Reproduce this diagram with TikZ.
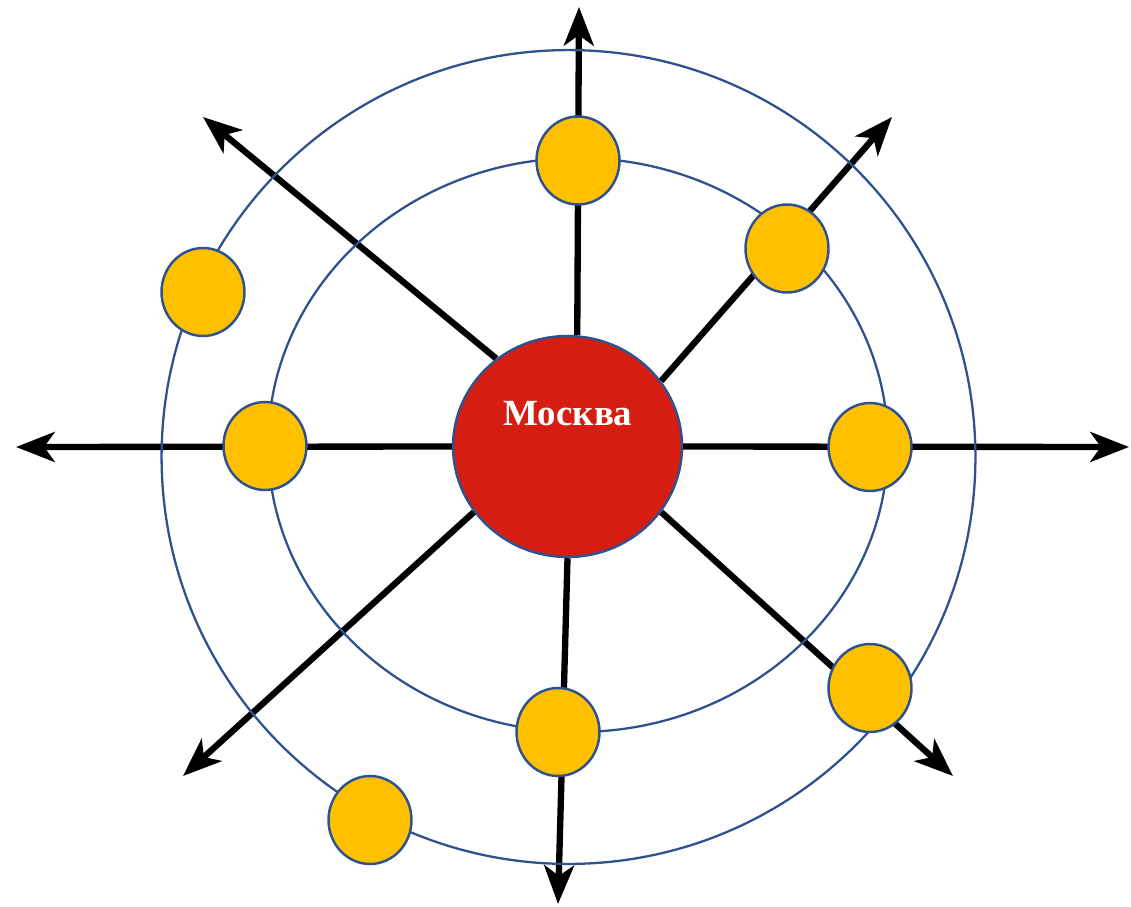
\documentclass[tikz,border=0pt]{standalone}
\usepackage{fontspec}
\setmainfont{Liberation Serif}
\usetikzlibrary{arrows.meta, shapes.geometric, backgrounds}
\definecolor{cityred}{RGB}{213,30,17}
\definecolor{townyellow}{RGB}{255,192,0}
\definecolor{orbitblue}{RGB}{47,82,143}

\begin{document}
\begin{tikzpicture}[
    x=0.02cm, y=-0.02cm,
    city/.style={ellipse, minimum width=4.58cm, minimum height=4.42cm, inner sep=0pt, draw=orbitblue, line width=1.4pt, fill=cityred},
    town/.style={ellipse, minimum width=1.66cm, minimum height=1.76cm, inner sep=0pt, draw=orbitblue, line width=1.4pt, fill=townyellow},
    orbit/.style={draw=orbitblue, line width=1.3pt},
    arrow/.style={line width=3.6pt, -{Stealth[length=22pt, width=17pt, inset=6pt]}}
]
    \useasboundingbox (0,0) rectangle (1131,906);

    \node[city] (moscow) at (567.5,446.5) {};
    \node[anchor=base, text=white, font=\bfseries\fontsize{21}{25}\selectfont] (moscowlabel) at (568,425) {Москва};

    \node[town] (top) at (578,160.5) {};
    \node[town] (upright) at (787,248.5) {};
    \node[town] (outerleft) at (203,292) {};
    \node[town] (left) at (265,446) {};
    \node[town] (right) at (870,447) {};
    \node[town] (lowright) at (870,688) {};
    \node[town] (bottom) at (558,732) {};
    \node[town] (outerbottom) at (370,820) {};

    \coordinate (endn) at (579,7);
    \coordinate (endne) at (892,117);
    \coordinate (endnw) at (203,117);
    \coordinate (endw) at (16,447);
    \coordinate (ende) at (1129,447);
    \coordinate (endsw) at (183,776);
    \coordinate (ends) at (558,904);
    \coordinate (endse) at (953,776);

    \begin{scope}[on background layer]
        \draw[arrow] (moscow.85) -- (endn);
        \draw[arrow] (moscow.35) -- (endne);
        \draw[arrow] (moscow.129) -- (endnw);
        \draw[arrow] (moscow.180) -- (endw);
        \draw[arrow] (moscow.0) -- (ende);
        \draw[arrow] (moscow.215) -- (endsw);
        \draw[arrow] (moscow.270) -- (ends);
        \draw[arrow] (moscow.325) -- (endse);

        \draw[orbit] (578,445) ellipse [x radius=6.2cm, y radius=5.74cm];
        \draw[orbit] (568.5,457) circle [radius=8.14cm];
    \end{scope}
\end{tikzpicture}
\end{document}
